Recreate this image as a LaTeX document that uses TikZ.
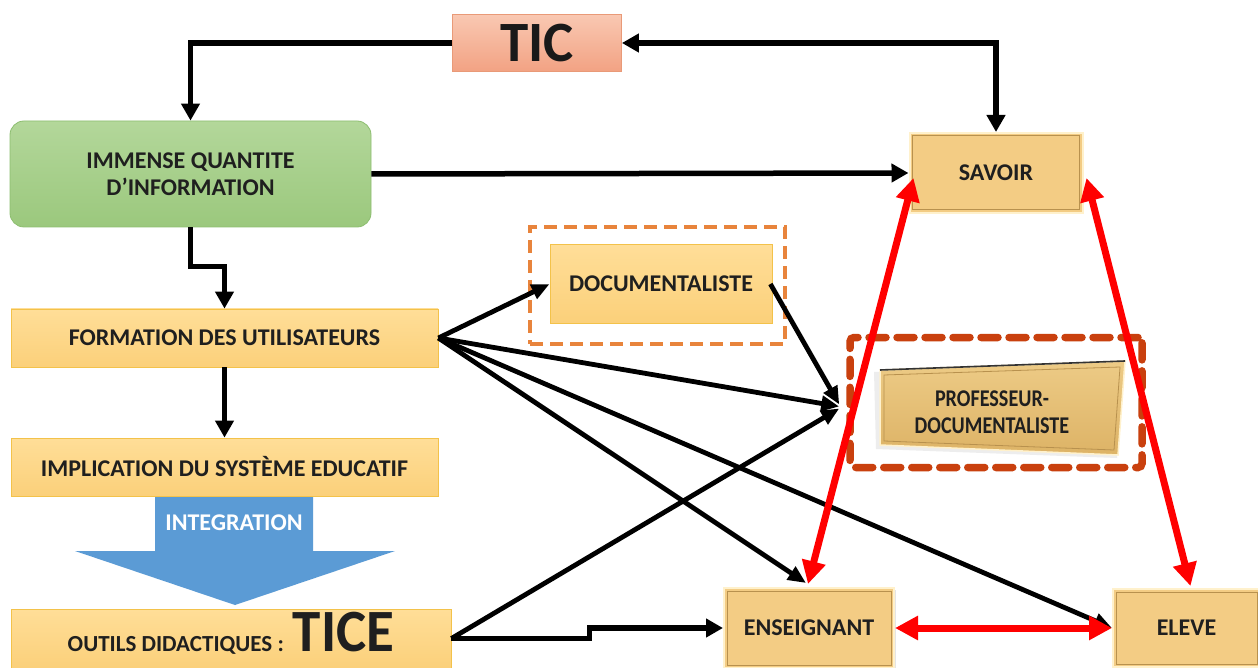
\documentclass[tikz,border=0pt]{standalone}
\usepackage{fontspec}
\usepackage{graphicx}
\setmainfont{Carlito}
\usetikzlibrary{arrows.meta,shadows}
\definecolor{ticT}{HTML}{F9C8B2}
\definecolor{ticB}{HTML}{F2A283}
\definecolor{ticE}{HTML}{E99A78}
\definecolor{grT}{HTML}{B3D79A}
\definecolor{grB}{HTML}{9BC87D}
\definecolor{grE}{HTML}{8DBE70}
\definecolor{orT}{HTML}{FFDE98}
\definecolor{orB}{HTML}{FBD07A}
\definecolor{orE}{HTML}{F3C24A}
\definecolor{gold}{HTML}{F3CC84}
\definecolor{goldL}{HTML}{B8914E}
\definecolor{goldO}{HTML}{FFF1CC}
\definecolor{profT}{HTML}{EDCB86}
\definecolor{profB}{HTML}{DDB366}
\definecolor{blueA}{HTML}{5B9BD5}
\definecolor{docD}{HTML}{E8843C}
\definecolor{profD}{HTML}{C9400E}
\definecolor{redA}{HTML}{FF0000}
\begin{document}
\begin{tikzpicture}[x=1pt,y=-1pt,
  txt/.style={font=\fontsize{24}{27}\selectfont\bfseries, text=black!88, align=center, inner sep=0pt},
  obox/.style={txt, draw=orE, line width=0.8pt, top color=orT, bottom color=orB},
  ticbox/.style={draw=ticE, line width=0.8pt, top color=ticT, bottom color=ticB, font=\fontsize{57}{60}\selectfont\bfseries, text=black!90},
  gbox/.style={txt, draw=grE, line width=0.8pt, top color=grT, bottom color=grB, rounded corners=14pt},
  bevel/.style={txt, fill=gold, draw=goldO, line width=2pt, drop shadow={shadow xshift=1.5pt, shadow yshift=-1.5pt, opacity=0.2}},
  innerline/.style={draw=goldL, line width=1pt},
  blkline/.style={draw=black, line width=5.5pt},
  blk/.style={blkline, -{Triangle[length=17pt,width=18pt]}},
  fan/.style={draw=black, line width=4.8pt, -{Triangle[length=18pt,width=15pt]}},
  redarr/.style={draw=redA, line width=7pt, {Triangle[length=23pt,width=23pt]}-{Triangle[length=23pt,width=23pt]}},
  docframe/.style={draw=docD, line width=4.5pt, dash pattern=on 13pt off 7pt},
  profframe/.style={draw=profD, line width=7.5pt, dash pattern=on 17pt off 11pt, line cap=round, rounded corners=4pt}
]
\useasboundingbox[fill=white] (0,0) rectangle (1258,668);

% nodes
\node[ticbox, minimum width=169pt, minimum height=57pt] (tic) at (537,43) {TIC};
\node[gbox, minimum width=361pt, minimum height=106pt] (info) at (190.5,174) {IMMENSE QUANTITE\\D’INFORMATION};
\node[obox, minimum width=427pt, minimum height=58pt] (form) at (224.5,338) {FORMATION DES UTILISATEURS};
\node[obox, minimum width=427pt, minimum height=58pt] (impl) at (224.5,467) {IMPLICATION DU SYSTÈME EDUCATIF};
\node[obox, minimum width=440pt, anchor=base, text height=42pt, text depth=17pt] (outils) at (231,651)
  {{\fontsize{23}{25}\selectfont OUTILS DIDACTIQUES :\ \,}{\fontsize{60}{62}\selectfont\scalebox{0.95}[1]{TICE}}};

% documentaliste
\node[docframe, minimum width=255pt, minimum height=117pt] (docf) at (657.5,285.5) {};
\node[obox, minimum width=222pt, minimum height=79pt] (doc) at (661,284) {DOCUMENTALISTE};

% bevel boxes
\node[bevel, minimum width=173pt, minimum height=80pt] (savoir) at (996,173) {SAVOIR};
\node[bevel, minimum width=170pt, minimum height=80pt] (ens) at (809,628) {ENSEIGNANT};
\node[bevel, minimum width=147pt, minimum height=78pt] (eleve) at (1186.5,628) {ELEVE};
\foreach \n in {savoir,ens,eleve}
  \draw[innerline] ([xshift=4pt,yshift=-4pt]\n.north west) rectangle ([xshift=-4pt,yshift=4pt]\n.south east);

% professeur-documentaliste
\node[profframe, minimum width=292pt, minimum height=130pt] (proff) at (996,402.5) {};
\fill[black!20, opacity=0.35] (874,372) -- (1123,362) -- (1117,458) -- (876,449) -- cycle;
\shade[top color=profT, bottom color=profB, draw=goldO, line width=1.5pt] (880,370) -- (1125,361) -- (1118,455) -- (880,445) -- cycle;
\draw[black!80, line width=1.6pt] (880,370) -- (1125,361);
\draw[goldL, line width=0.8pt] (884,375) -- (1120,367) -- (1114,450) -- (884,441) -- cycle;
\node[txt] (prof) at (992,412)
  {\scalebox{0.84}[1]{PROFESSEUR-}\\\scalebox{0.84}[1]{DOCUMENTALISTE}};

% integration arrow
\fill[blueA] (155,497) -- (313,497) -- (313,551) -- (395,551) -- (235,605) -- (75,551) -- (155,551) -- cycle;
\node[txt, text=white] (integ) at (234,523) {INTEGRATION};

% black connectors
\draw[blk] (tic.west) -| (info.north);
\draw[blkline, {Triangle[length=17pt,width=18pt]}-{Triangle[length=17pt,width=18pt]}] (tic.east) -| (savoir.north);
\draw[blk] (info.east) -- (savoir.west);
\draw[blk] (info.south) -- ++(0,39) -| (form.north);
\draw[blk] (form.south) -- (impl.north);
\draw[blk] (outils.east) -- ++(138,0) |- (ens.west);

\draw[fan] (form.east) -- (doc.west);
\draw[fan] (form.east) -- ([xshift=-7pt,yshift=-4pt]proff.west);
\draw[fan] (form.east) -- ([xshift=-3pt,yshift=4pt]ens.north);
\draw[fan] (form.east) -- (eleve.west);
\draw[fan] ([xshift=-2pt]doc.east) -- ([xshift=-7pt,yshift=-2pt]proff.west);
\draw[fan] (outils.east) -- ([xshift=-7pt,yshift=-6pt]proff.west);

% red connectors
\draw[redarr] ([xshift=-1pt,yshift=3pt]ens.north) -- ([xshift=5pt,yshift=-5pt]savoir.west);
\draw[redarr] ([xshift=4pt,yshift=2pt]eleve.north) -- ([xshift=3pt,yshift=-5pt]savoir.east);
\draw[redarr] (ens.east) -- (eleve.west);
\end{tikzpicture}
\end{document}
